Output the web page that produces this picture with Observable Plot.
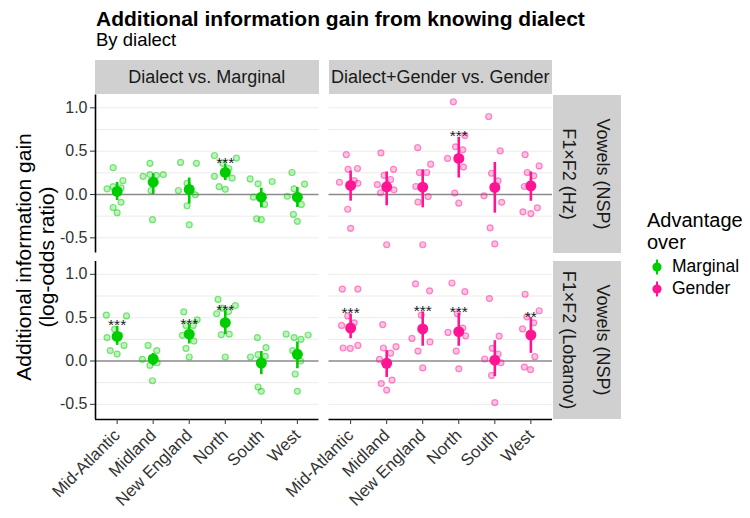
<!DOCTYPE html>
<html><head><meta charset="utf-8">
<script src="https://cdn.jsdelivr.net/npm/d3@7"></script>
<script src="https://cdn.jsdelivr.net/npm/@observablehq/plot@0.6"></script>
<style>
body{margin:0;background:#fff;}
#wrap{position:relative;width:750px;height:518px;font-family:"Liberation Sans",Arial,sans-serif;color:#000;overflow:hidden;background:#fff;}
#wrap svg.plot{position:absolute;left:0;top:0;}
.abs{position:absolute;white-space:nowrap;line-height:1;}
.strip{position:absolute;background:#d0d0d0;}
.stxt{position:absolute;white-space:nowrap;font-size:18px;color:#1a1a1a;text-align:center;}
</style></head>
<body><div id="wrap"></div>
<script>
// ---------- data ----------
const dialects = ["Mid-Atlantic", "Midland", "New England", "North", "South", "West"];
const comparisons = ["Dialect vs. Marginal", "Dialect+Gender vs. Gender"];
const advantage = ["Marginal", "Gender"];
const representations = ["Hz", "Lobanov"];
const repLabels = [["Vowels (NSP)", "F1×F2 (Hz)"], ["Vowels (NSP)", "F1×F2 (Lobanov)"]];
const yTicks = [-0.5, 0, 0.5, 1.0];
const gridLines = [-0.5, -0.25, 0.25, 0.5, 0.75, 1.0];
const xDomain = [-0.6, 5.6];
const yDomain = [-0.675, 1.148];

// summary estimates (per dialect)
const estHzMarginal  = [0.035, 0.142, 0.058, 0.254, -0.031, -0.031];
const lowHzMarginal  = [-0.07, 0.0, -0.11, 0.16, -0.154, -0.15];
const highHzMarginal = [0.14, 0.24, 0.19, 0.35, 0.073, 0.08];
const sigHzMarginal  = ["", "", "", "***", "", ""];

const estHzGender  = [0.104, 0.089, 0.085, 0.416, 0.081, 0.1];
const lowHzGender  = [-0.077, -0.13, -0.154, 0.19, -0.215, -0.078];
const highHzGender = [0.27, 0.26, 0.285, 0.66, 0.37, 0.26];
const sigHzGender  = ["", "", "", "***", "", ""];

const estLobMarginal  = [0.284, 0.023, 0.31, 0.442, -0.023, 0.077];
const lowLobMarginal  = [0.18, -0.058, 0.196, 0.304, -0.158, -0.089];
const highLobMarginal = [0.4, 0.088, 0.42, 0.58, 0.11, 0.22];
const sigLobMarginal  = ["***", "", "***", "***", "", ""];

const estLobGender  = [0.38, -0.027, 0.37, 0.338, 0.01, 0.3];
const lowLobGender  = [0.257, -0.19, 0.17, 0.17, -0.18, 0.088];
const highLobGender = [0.54, 0.12, 0.566, 0.55, 0.234, 0.5];
const sigLobGender  = ["***", "", "***", "***", "", "**"];

// individual values: [dialect index, jitter (dialect units), gain]
const ptsHzMarginal = [
  [0,-.11,.31],[0,.16,.16],[0,-.28,.066],[0,-.11,.09],[0,.11,.077],[0,.11,-.09],[0,-.11,-.15],[0,0,-.21],
  [1,-.09,.36],[1,-.28,.21],[1,-.09,.23],[1,.09,.22],[1,.28,.23],[1,-.06,.046],[1,-.02,-.29],
  [2,-.24,.37],[2,.2,.36],[2,-.06,.128],[2,-.3,.046],[2,.17,-.004],[2,-.06,-.13],[2,0,-.35],
  [3,-.3,.45],[3,.31,.42],[3,-.07,.36],[3,-.3,.21],[3,.19,.19],[3,-.17,.09],[3,0,.06],[3,.1,.3],
  [4,-.31,.18],[4,-.09,.123],[4,.3,.15],[4,-.22,-.031],[4,.09,-.115],[4,-.13,-.28],[4,0,-.29],
  [5,-.15,.254],[5,.2,.12],[5,-.09,.066],[5,-.28,-.02],[5,.11,-.115],[5,-.11,-.23],[5,0,-.31]
];
const ptsHzGender = [
  [0,-.12,.46],[0,-.07,.29],[0,.19,.3],[0,-.31,.14],[0,.1,.16],[0,.2,.13],[0,-.08,-.17],[0,0,-.39],
  [1,-.16,.48],[1,.19,.29],[1,-.07,.22],[1,.11,.173],[1,-.26,.115],[1,.2,.054],[1,-.17,.02],[1,0,-.58],
  [2,-.14,.54],[2,.22,.35],[2,-.09,.254],[2,.11,.254],[2,-.19,.092],[2,.15,-.023],[2,-.13,-.088],[2,0,-.58],
  [3,-.15,1.07],[3,.17,.68],[3,-.09,.55],[3,.11,.516],[3,-.31,.416],[3,.13,.316],[3,-.11,.016],[3,0,-.1],
  [4,-.17,.9],[4,.15,.503],[4,-.09,.245],[4,.09,.158],[4,-.3,-.015],[4,.19,-.09],[4,-.13,-.385],[4,0,-.57],
  [5,-.16,.46],[5,.23,.33],[5,-.1,.254],[5,.08,.215],[5,-.18,.092],[5,.18,-.154],[5,-.22,-.2],[5,0,-.22]
];
const ptsLobMarginal = [
  [0,-.3,.53],[0,.26,.52],[0,-.07,.365],[0,-.28,.27],[0,.19,.18],[0,-.19,.12],[0,0,.08],[0,.07,.3],
  [1,-.14,.18],[1,.1,.12],[1,-.3,.019],[1,-.09,-.05],[1,.11,-.02],[1,-.02,-.228],
  [2,-.15,.566],[2,-.09,.41],[2,.11,.41],[2,.22,.476],[2,-.19,.296],[2,.13,.23],[2,-.09,.145],[2,0,.046],
  [3,-.2,.71],[3,.28,.64],[3,-.09,.61],[3,-.24,.545],[3,.09,.57],[3,-.11,.304],[3,.11,.31],[3,0,.046],
  [4,-.11,.27],[4,.13,.155],[4,-.3,.046],[4,-.09,.073],[4,.11,.054],[4,-.09,-.3],[4,0,-.35],
  [5,-.31,.31],[5,-.09,.27],[5,.1,.25],[5,.3,.3],[5,-.13,.12],[5,.09,0],[5,-.06,-.15],[5,0,-.35]
];
const ptsLobGender = [
  [0,-.23,.83],[0,.2,.83],[0,-.08,.52],[0,.1,.44],[0,-.25,.41],[0,-.21,.15],[0,-.01,.145],[0,.2,.18],
  [1,-.11,.42],[1,-.09,.15],[1,.26,.165],[1,.11,.09],[1,-.2,.019],[1,.15,-.22],[1,-.15,-.26],[1,0,-.336],
  [2,-.2,.89],[2,.19,.81],[2,-.04,.53],[2,-.3,.26],[2,.2,.22],[2,-.13,.114],[2,0,-.08],
  [3,-.19,.9],[3,.17,.8],[3,-.04,.546],[3,.11,.38],[3,-.3,.33],[3,.19,.29],[3,-.07,.114],[3,0,-.09],
  [4,-.15,.72],[4,.12,.288],[4,-.07,.146],[4,.09,.081],[4,-.28,.023],[4,.17,-.02],[4,-.09,-.166],[4,0,-.48],
  [5,-.16,.77],[5,.23,.58],[5,-.11,.51],[5,.08,.44],[5,-.23,.37],[5,.11,.05],[5,-.18,-.07],[5,-.01,-.1]
];

const colors = ["#00cd00", "#ff1493"];

// ---------- tables ----------
const panels = [
  {cmp: 0, rep: 0, est: estHzMarginal, lo: lowHzMarginal, hi: highHzMarginal, sig: sigHzMarginal, pts: ptsHzMarginal},
  {cmp: 1, rep: 0, est: estHzGender, lo: lowHzGender, hi: highHzGender, sig: sigHzGender, pts: ptsHzGender},
  {cmp: 0, rep: 1, est: estLobMarginal, lo: lowLobMarginal, hi: highLobMarginal, sig: sigLobMarginal, pts: ptsLobMarginal},
  {cmp: 1, rep: 1, est: estLobGender, lo: lowLobGender, hi: highLobGender, sig: sigLobGender, pts: ptsLobGender}
];
const summary = panels.flatMap(p => dialects.map((d, i) => ({
  fx: comparisons[p.cmp], fy: representations[p.rep], adv: advantage[p.cmp],
  i, est: p.est[i], lo: p.lo[i], hi: p.hi[i], sig: p.sig[i]
})));
const points = panels.flatMap(p => p.pts.map(([i, j, v]) => ({
  fx: comparisons[p.cmp], fy: representations[p.rep], adv: advantage[p.cmp], x: i + j, v
})));
// axis lines: left edge of the left column, bottom edge of the bottom row
const leftAxisLine = [{fx: comparisons[0], x: xDomain[0]}];
const bottomAxisLine = [{fy: representations[1], y: yDomain[0]}];
const xTicks = d3.range(dialects.length);

// ---------- layout ----------
const L = {left: 95, right: 552, top: 94.5, bottom: 419, colGap: 10, rowGap: 8.5};
const panelW = (L.right - L.left - L.colGap) / 2;
const panelH = (L.bottom - L.top - L.rowGap) / 2;

const wrap = document.getElementById("wrap");

const plot = Plot.plot({
  width: 750, height: 518,
  marginLeft: L.left, marginRight: 750 - L.right, marginTop: L.top, marginBottom: 518 - L.bottom,
  style: {fontFamily: '"Liberation Sans", Arial, sans-serif', fontSize: "16px", color: "#333", background: "transparent", overflow: "visible"},
  fx: {domain: comparisons, paddingInner: L.colGap / (panelW + L.colGap), paddingOuter: 0, round: false, axis: null},
  fy: {domain: representations, paddingInner: L.rowGap / (panelH + L.rowGap), paddingOuter: 0, round: false, axis: null},
  x: {domain: xDomain},
  y: {domain: yDomain},
  color: {domain: advantage, range: colors},
  marks: [
    Plot.ruleY(gridLines, {stroke: "#ebebeb", strokeWidth: 1}),
    Plot.ruleY([0], {stroke: "#8a8a8a", strokeWidth: 1.6}),
    Plot.dot(points, {x: "x", y: "v", fx: "fx", fy: "fy", r: 3, fill: "adv", fillOpacity: 0.25, stroke: "adv", strokeOpacity: 0.48, strokeWidth: 1.2}),
    Plot.ruleX(summary, {x: "i", y1: "lo", y2: "hi", fx: "fx", fy: "fy", stroke: "adv", strokeWidth: 2.6}),
    Plot.dot(summary, {x: "i", y: "est", fx: "fx", fy: "fy", r: 5.5, fill: "adv"}),
    Plot.text(summary.filter(d => d.sig), {x: "i", y: "hi", fx: "fx", fy: "fy", text: "sig", lineAnchor: "bottom", dy: 4, fontSize: 15.5, fill: "#1a1a1a"}),
    Plot.ruleX(leftAxisLine, {x: "x", fx: "fx", stroke: "#000", strokeWidth: 1.6}),
    Plot.ruleY(bottomAxisLine, {y: "y", fy: "fy", stroke: "#000", strokeWidth: 1.6}),
    Plot.axisY(yTicks, {tickFormat: d => d.toFixed(1), tickSize: 5, tickPadding: 3, label: null, fontSize: 16}),
    // x tick marks
    Plot.axisX(xTicks, {tickFormat: () => "", tickSize: 5, label: null}),
    // x tick labels, rotated
    Plot.axisX(xTicks, {tickFormat: i => dialects[i], tickRotate: -45, tickSize: 0, tickPadding: 13, label: null, fontSize: 16.8, dx: 0})
  ]
});
plot.classList.add("plot");
wrap.appendChild(plot);

// ---------- text overlays ----------
function addText(txt, left, baseline, size, extra = {}) {
  const d = document.createElement("div");
  d.className = "abs";
  d.textContent = txt;
  d.style.left = left + "px";
  d.style.top = (baseline - 0.8465 * size) + "px";
  d.style.fontSize = size + "px";
  Object.assign(d.style, extra);
  wrap.appendChild(d);
  return d;
}
addText("Additional information gain from knowing dialect", 96, 26, 21, {fontWeight: "bold"});
addText("By dialect", 96, 47, 18.5);

// column strips
comparisons.forEach((c, k) => {
  const x0 = L.left + k * (panelW + L.colGap);
  const s = document.createElement("div");
  s.className = "strip";
  Object.assign(s.style, {left: x0 + "px", top: "60px", width: panelW + "px", height: (L.top - 60.5) + "px"});
  wrap.appendChild(s);
  const t = document.createElement("div");
  t.className = "stxt";
  t.textContent = c;
  Object.assign(t.style, {left: x0 + "px", top: "60px", width: panelW + "px", height: (L.top - 60.5) + "px", lineHeight: (L.top - 60.5) + "px"});
  wrap.appendChild(t);
});
// row strips
representations.forEach((r, k) => {
  const y0 = L.top + k * (panelH + L.rowGap);
  const s = document.createElement("div");
  s.className = "strip";
  Object.assign(s.style, {left: (L.right + 0.5) + "px", top: y0 + "px", width: "68.5px", height: panelH + "px"});
  wrap.appendChild(s);
  const cy = y0 + panelH / 2;
  [[569, repLabels[k][1]], [603, repLabels[k][0]]].forEach(([cx, txt]) => {
    const t = document.createElement("div");
    t.className = "stxt";
    t.textContent = txt;
    Object.assign(t.style, {left: cx + "px", top: cy + "px", width: panelH + "px", height: "34px", lineHeight: "34px", transform: "translate(-50%,-50%) rotate(90deg)"});
    wrap.appendChild(t);
  });
});

// y axis title
[["Additional information gain", 23], ["(log-odds ratio)", 46]].forEach(([txt, cx]) => {
  const t = document.createElement("div");
  t.className = "abs";
  t.textContent = txt;
  Object.assign(t.style, {left: cx + "px", top: ((L.top + L.bottom) / 2) + "px", fontSize: "21px", lineHeight: "23px", transform: "translate(-50%,-50%) rotate(-90deg)", textAlign: "center"});
  wrap.appendChild(t);
});

// legend
addText("Advantage", 647, 227, 20);
addText("over", 647, 249, 20);
advantage.forEach((a, k) => {
  const cy = 267 + k * 22;
  const svg = d3.create("svg").attr("width", 20).attr("height", 20)
    .style("position", "absolute").style("left", "647px").style("top", (cy - 10) + "px");
  svg.append("line").attr("x1", 10).attr("x2", 10).attr("y1", 2.5).attr("y2", 17.5).attr("stroke", colors[k]).attr("stroke-width", 2);
  svg.append("circle").attr("cx", 10).attr("cy", 10).attr("r", 4.6).attr("fill", colors[k]);
  wrap.appendChild(svg.node());
  addText(a, 672, cy + 6.2, 17.5);
});
</script>
</body></html>
